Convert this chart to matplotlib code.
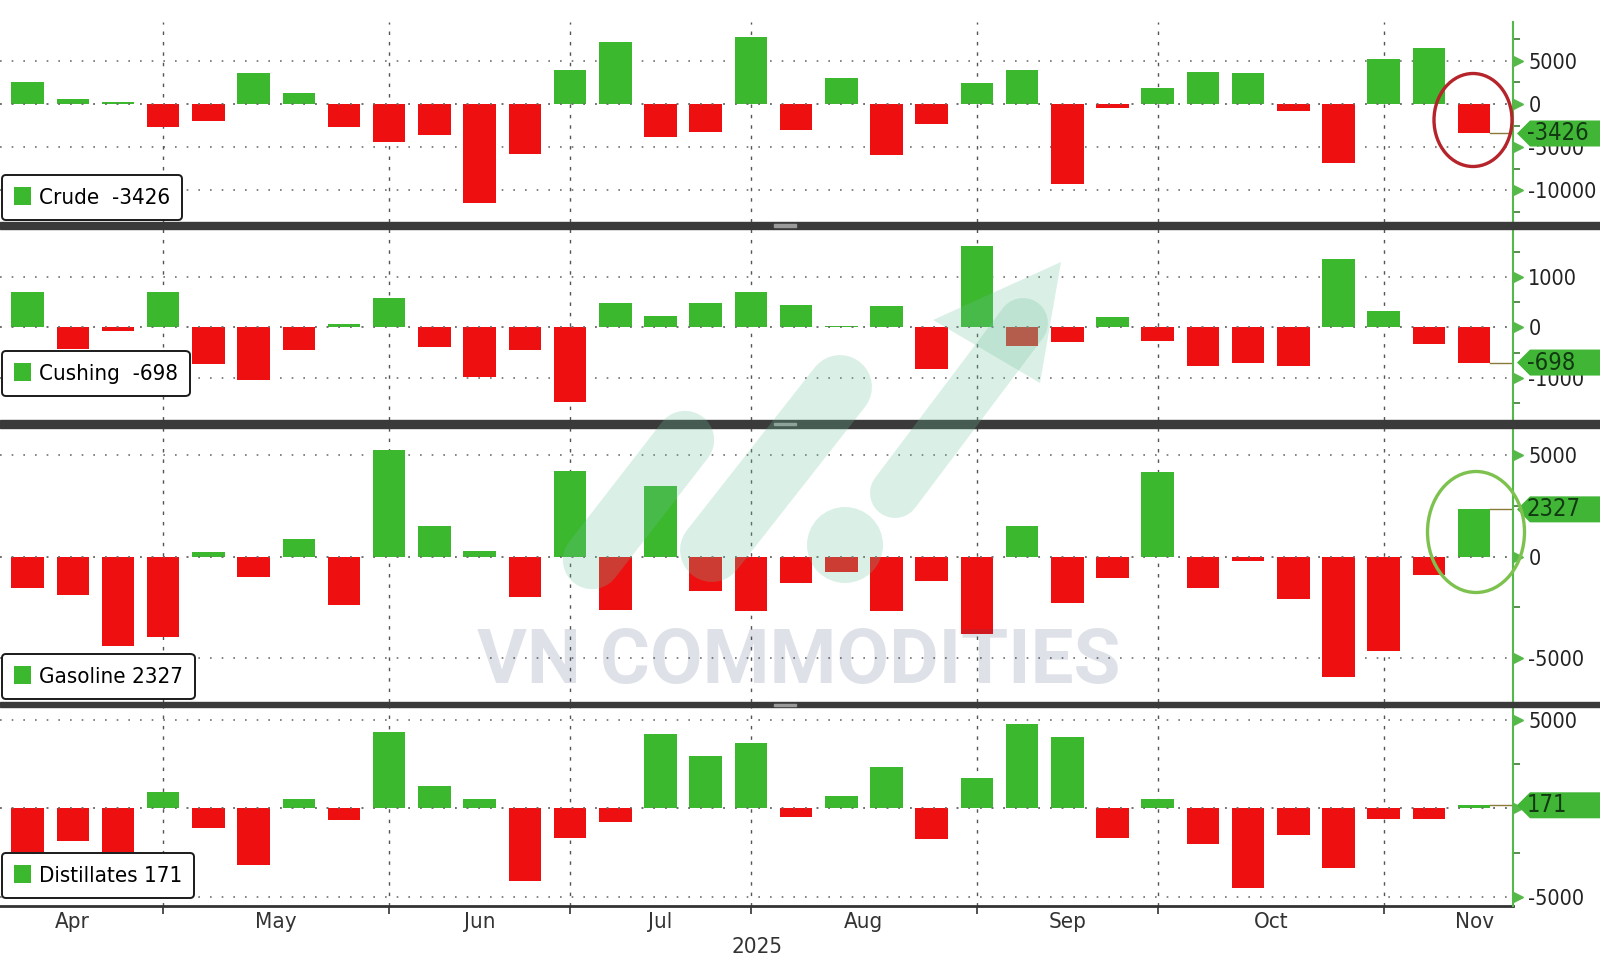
import numpy as np
import pandas as pd
import matplotlib
matplotlib.use('Agg')
import matplotlib.pyplot as plt
from matplotlib import font_manager
from matplotlib.patches import Rectangle, Polygon, Ellipse, Patch
from matplotlib.lines import Line2D
from matplotlib.ticker import FuncFormatter

# weekly EIA inventory changes (kb), weeks ending Friday
weeks = pd.date_range('2025-04-11', '2025-11-21', freq='W-FRI')
crude = [2600, 580, 230, -2680, -1980, 3570, 1320, -2680, -4380, -3600, -11480,
         -5820, 3915, 7250, -3800, -3260, 7750, -3020, 2990, -5970, -2330, 2440,
         3915, -9300, -470, 1900, 3720, 3570, -810, -6900, 5190, 6470, -3426]
cushing = [700, -420, -80, 700, -733, -1050, -455, 70, 574, -396, -977, -455,
           -1485, 482, 231, 482, 700, 449, 30, 416, -832, 1610, -363, -297, 198,
           -264, -766, -706, -766, 1360, 323, -330, -698]
gasoline = [-1525, -1900, -4380, -3935, 246, -984, 869, -2378, 5250, 1510, 262,
            -2000, 4215, -2625, 3460, -1673, -2690, -1280, -738, -2690, -1197,
            -3805, 1510, -2296, -1050, 4150, -1525, -197, -2066, -5904, -4625,
            -902, 2327]
distillates = [-2450, -1842, -2450, 902, -1109, -3177, 545, -677, 4286, 1260, 545,
               -4080, -1654, -771, 4211, 2951, 3666, -508, 715, 2331, -1748, 1711,
               4737, 4023, -1654, 545, -2011, -4512, -1485, -3346, -602, -602, 171]
series = [crude, cushing, gasoline, distillates]
legend_labels = ['Crude  -3426', 'Cushing  -698', 'Gasoline 2327', 'Distillates 171']
year_label = '2025'
watermark = 'VN COMMODITIES'

W, H = 1600, 957
GREEN = '#3cb82f'
RED = '#ee1010'
AXIS_GREEN = '#55b94a'
TAG_GREEN = '#40b536'
GRID = '#707070'

installed = {f.name for f in font_manager.fontManager.ttflist}
if 'Liberation Sans Narrow' in installed:
    plt.rcParams['font.family'] = 'Liberation Sans Narrow'
else:
    plt.rcParams['font.family'] = 'DejaVu Sans'
    plt.rcParams['font.stretch'] = 'condensed'
WM_FONT = 'Roboto' if 'Roboto' in installed else 'DejaVu Sans'

fig = plt.figure(figsize=(W / 100, H / 100), dpi=100)


def px_box(x0, y0, x1, y1):
    # pixel box (top-left origin) -> figure fraction rect
    return [x0 / W, 1 - y1 / H, (x1 - x0) / W, (y1 - y0) / H]


def fx(x):
    return x / W


def fy(y):
    return 1 - y / H


# layout: pixel rows of each panel, y limits, tick step, legend gap
rows = [(22, 222), (229, 420), (428, 702), (707, 906)]
ylims = [(-13710, 9530), (-1835, 1946), (-7150, 6330), (-5515, 5720)]
steps = [5000, 1000, 5000, 5000]
legend_gaps = [2, 24, 3, 8]
AX_RIGHT = 1513

x = np.arange(len(weeks))
starts = [i for i in range(1, len(weeks)) if weeks[i].month != weeks[i - 1].month]
edges = [starts[0] - 4] + starts + [starts[-1] + 4]
mids = [(a + b) / 2 for a, b in zip(edges[:-1], edges[1:])]
month_names = [weeks[0].strftime('%b')] + [weeks[i].strftime('%b') for i in starts]

axes = []
for k, vals in enumerate(series):
    top, bot = rows[k]
    ax = fig.add_axes(px_box(0, top, AX_RIGHT, bot))
    colors = [GREEN if v >= 0 else RED for v in vals]
    ax.bar(x, vals, width=0.72, color=colors, zorder=2)
    ax.set_xlim(-0.61, len(x) - 0.14)
    ax.set_ylim(*ylims[k])

    step = steps[k]
    lo, hi = ylims[k]
    majors = np.arange(np.ceil(lo / step) * step, hi, step)
    minors = np.arange(np.ceil(lo / (step / 2)) * step / 2, hi, step / 2)
    ax.yaxis.tick_right()
    ax.set_yticks(majors)
    ax.set_yticks(minors, minor=True)
    ax.yaxis.set_major_formatter(FuncFormatter(lambda v, p: '%d' % v))
    ax.tick_params(axis='y', which='major', length=0, pad=11, labelsize=15.5,
                   labelcolor='#222222')
    ax.tick_params(axis='y', which='minor', length=5, width=1.2, color='#3d7a33')
    ax.plot(np.full(len(majors), 1 + 5 / AX_RIGHT), majors, ls='none', marker='>',
            ms=7, color=AXIS_GREEN, transform=ax.get_yaxis_transform(),
            clip_on=False, zorder=5)

    ax.yaxis.grid(True, which='major', ls=(0, (1, 6)), lw=1.2, color=GRID)
    ax.set_axisbelow(True)
    for s in starts:
        ax.axvline(s, ls=(0, (2.5, 5)), lw=1.0, color='#555555', zorder=1)
    ax.axhline(0, ls=(0, (1, 6)), lw=1.2, color=GRID, zorder=3)

    for sp in ax.spines.values():
        sp.set_visible(False)

    # leader from last bar to the axis
    ax.plot([len(x) - 1 + 0.36, len(x) - 0.14], [vals[-1], vals[-1]],
            color='#8a7a3a', lw=1, zorder=3)

    h = Patch(facecolor=GREEN, edgecolor='none')
    leg = ax.legend([h], [legend_labels[k]], loc='lower left',
                    bbox_to_anchor=(2 / AX_RIGHT, legend_gaps[k] / (bot - top)),
                    borderaxespad=0, fontsize=16, handlelength=0.75,
                    handleheight=0.9, handletextpad=0.35, borderpad=0.55,
                    frameon=True, fancybox=True, framealpha=1, edgecolor='#1a1a1a')
    leg.get_frame().set_linewidth(1.4)
    leg.set_zorder(6)

    # value tag on the right axis
    last = vals[-1]
    yd = ax.transData.transform((0, last))[1] / H
    th = 13 / H
    poly = [(fx(1517), yd), (fx(1530), yd + th), (1, yd + th), (1, yd - th),
            (fx(1530), yd - th)]
    fig.patches.append(Polygon(poly, closed=True, transform=fig.transFigure,
                               facecolor=TAG_GREEN, edgecolor='none', zorder=8))
    fig.text(fx(1527), yd, '%d' % last, fontsize=17, color='#123a12',
             ha='left', va='center', zorder=9)
    axes.append(ax)

for ax in axes[:-1]:
    ax.set_xticks([])

ax = axes[-1]
ax.spines['bottom'].set_visible(True)
ax.spines['bottom'].set_color('#333333')
ax.spines['bottom'].set_linewidth(2)
ax.set_xticks(starts)
ax.set_xticklabels([])
ax.set_xticks(mids, labels=month_names, minor=True)
ax.tick_params(axis='x', which='major', length=6, width=1.2, color='#333333')
ax.tick_params(axis='x', which='minor', length=0, pad=4, labelsize=16,
               labelcolor='#333333')
fig.text(fx(757), fy(947), year_label, fontsize=16, color='#333333',
         ha='center', va='center')

# panel separators
for y0, y1 in [(222, 229), (420, 428), (702, 707)]:
    fig.patches.append(Rectangle((0, fy(y1)), 1, (y1 - y0) / H,
                                 transform=fig.transFigure, color='#3a3a3a', zorder=7))
    fig.patches.append(Rectangle((fx(774), fy((y0 + y1) / 2) - 1 / H), 22 / W, 2 / H,
                                 transform=fig.transFigure, color='#9a9a9a', zorder=7))

# right axis line
fig.lines.append(Line2D([fx(AX_RIGHT)] * 2, [fy(22), fy(906)], color=AXIS_GREEN,
                        lw=1.5, transform=fig.transFigure, zorder=4))

# highlight circles
fig.patches.append(Ellipse((fx(1473), fy(120)), 78 / W, 93 / H, transform=fig.transFigure,
                           fill=False, edgecolor='#b5242a', lw=2.4, zorder=9))
fig.patches.append(Ellipse((fx(1476), fy(532)), 97 / W, 121 / H, transform=fig.transFigure,
                           fill=False, edgecolor='#7dc24f', lw=2.4, zorder=9))

# watermark logo
MINT = '#6cc39c'
for (x0, y0), (x1, y1), w in [((592, 560), (685, 440), 42),
                              ((712, 550), (840, 387), 46),
                              ((895, 493), (1023, 323), 36)]:
    fig.lines.append(Line2D([fx(x0), fx(x1)], [fy(y0), fy(y1)], color=MINT, alpha=0.25,
                            lw=w, solid_capstyle='round', transform=fig.transFigure,
                            zorder=10))
fig.patches.append(Polygon([(fx(1061), fy(262)), (fx(933), fy(320)), (fx(1040), fy(383))],
                           closed=True, transform=fig.transFigure, facecolor=MINT,
                           alpha=0.25, edgecolor='none', zorder=10))
fig.patches.append(Ellipse((fx(845), fy(545)), 76 / W, 76 / H, transform=fig.transFigure,
                           facecolor=MINT, alpha=0.25, edgecolor='none', zorder=10))
fig.text(fx(799), fy(662), watermark, family=WM_FONT, fontweight='bold', fontsize=55,
         color='#3a4577', alpha=0.16, ha='center', va='center', zorder=10)

fig.savefig('out.png', dpi=100)
